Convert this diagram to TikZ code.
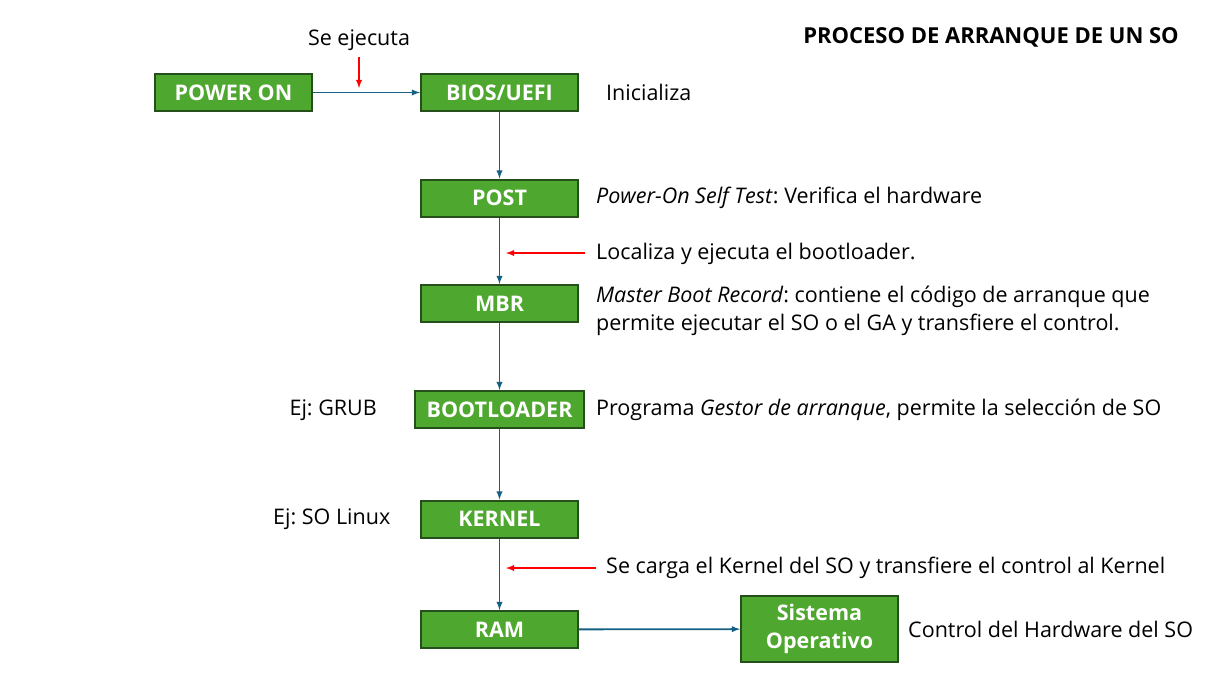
\documentclass[tikz,border=0pt]{standalone}
\usepackage{fontspec}
\setmainfont{Open Sans}
\usetikzlibrary{arrows}
\frenchspacing

\definecolor{boxgreen}{HTML}{4EA72E}
\definecolor{boxedge}{HTML}{25501C}
\definecolor{flowblue}{HTML}{156082}

\tikzset{
  stage/.style={draw=boxedge, line width=2pt, fill=boxgreen, text=white,
    font=\fontsize{21.5}{26}\selectfont\bfseries, minimum width=157pt,
    minimum height=37pt, inner sep=0pt, align=center},
  note/.style={anchor=west, inner sep=0pt, font=\fontsize{21.5}{28}\selectfont, align=left},
  flow/.style={draw=flowblue, line width=1.8pt, -latex},
  hint/.style={draw=red, line width=1.8pt, -latex}
}

\begin{document}
\begin{tikzpicture}[x=1pt,y=-1pt]
  \useasboundingbox (0,0) rectangle (1218,681);

  \node[stage] (power) at (233.5,92.5) {POWER ON};
  \node[stage] (bios) at (499.5,92.5) {BIOS/UEFI};
  \node[stage] (post) at (499.5,198) {POST};
  \node[stage] (mbr) at (499.5,303.5) {MBR};
  \node[stage, minimum width=169pt] (boot) at (499.5,409.5) {BOOTLOADER};
  \node[stage] (kernel) at (499.5,519) {KERNEL};
  \node[stage] (ram) at (499.5,629.5) {RAM};
  \node[stage, minimum height=66pt, font=\fontsize{21.5}{28}\selectfont\bfseries] (so) at (819.5,629) {Sistema\\Operativo};

  \draw[flow] (power) -- (bios);
  \foreach \a/\b in {bios/post, post/mbr, mbr/boot, boot/kernel, kernel/ram} {
      \draw[flow] (\a) -- (\b);
    }
  \draw[flow] (ram) -- (so);

  % notes
  \node[font=\fontsize{22}{26}\selectfont\bfseries, inner sep=0pt] (title) at (991,37) {PROCESO DE ARRANQUE DE UN SO};
  \node[inner sep=0pt, font=\fontsize{21.5}{26}\selectfont] (exec) at (359,40) {Se ejecuta};
  \node[note] (init) at (606,92) {Inicializa};
  \node[note] (selftest) at (596,198) {\textit{Power-On Self Test}: Verifica el hardware};
  \node[note] (locate) at (596,254) {Localiza y ejecuta el bootloader.};
  \node[note] (master) at (596,311) {\textit{Master Boot Record}: contiene el código de arranque que\\permite ejecutar el SO o el GA y transfiere el control.};
  \node[note, anchor=east] (grub) at (377,410) {Ej: GRUB};
  \node[note] (gestor) at (596,410) {Programa \textit{Gestor de arranque}, permite la selección de SO};
  \node[note] (linux) at (273,519) {Ej: SO Linux};
  \node[note] (load) at (606,568) {Se carga el Kernel del SO y transfiere el control al Kernel};
  \node[note] (control) at (908,629) {Control del Hardware del SO};

  \coordinate (execend) at (359,88);
  \coordinate (locend) at (506,253);
  \coordinate (loadend) at (506,568);
  \draw[hint] (359,57) -- (execend);
  \draw[hint] (585,253) -- (locend);
  \draw[hint] (596,568) -- (loadend);
\end{tikzpicture}
\end{document}
